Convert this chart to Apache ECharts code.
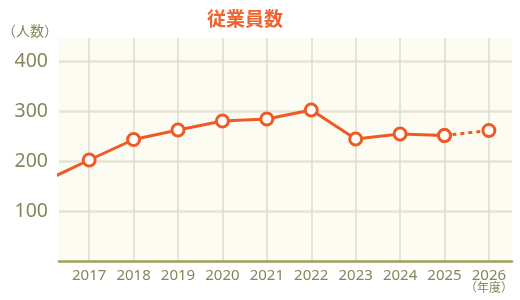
<!DOCTYPE html>
<html><head><meta charset="utf-8">
<script src="https://cdn.jsdelivr.net/npm/echarts@6/dist/echarts.min.js"></script>
<style>html,body{margin:0;padding:0;background:#fff}#c{width:520px;height:300px}</style>
</head><body><div id="c"></div>
<script>
const years = [2016, 2017, 2018, 2019, 2020, 2021, 2022, 2023, 2024, 2025, 2026];
const actual = [160, 202, 243, 262, 280, 284, 302, 244, 254, 251, null];
const forecast = [null, null, null, null, null, null, null, null, null, 251, 261];
const yTicks = [100, 200, 300, 400];
const title = '従業員数';
const yUnit = '（人数）';
const xUnit = '（年度）';

const orange = '#ef5a24';
const olive = '#86865a';
const grid = '#e6e4d2';
const vgrid = '#dedcd0';

const chart = echarts.init(document.getElementById('c'));
const actualData = years.map((y, i) => [y, actual[i]]).filter(d => d[1] !== null);
const forecastData = years.map((y, i) => [y, forecast[i]]).filter(d => d[1] !== null);
const firstShown = years[1];

chart.setOption({
  animation: false,
  title: {
    text: title, left: 240, top: 4, textAlign: 'center',
    textStyle: { color: '#f0622d', fontSize: 19, fontWeight: 'bold', fontFamily: 'Noto Sans CJK JP' }
  },
  graphic: [
    { type: 'text', left: 2, top: 24, style: { text: yUnit, fill: olive, font: '14px "Noto Sans CJK JP"' } },
    { type: 'text', right: 7, top: 281, style: { text: xUnit, fill: olive, font: '12px "Noto Sans CJK JP"' } }
  ],
  grid: { left: 59, right: 8, top: 38, bottom: 39, show: true, backgroundColor: '#fcfcf2', borderWidth: 0 },
  xAxis: {
    type: 'value', min: 2016.32, max: 2026.52, splitNumber: 10,
    axisLine: { lineStyle: { color: '#a3a35e', width: 2.5 } },
    axisTick: { show: false },
    axisLabel: { color: olive, fontSize: 15, fontFamily: 'Noto Sans', margin: 7, showMinLabel: false, showMaxLabel: false,
      formatter: v => (Number.isInteger(v) && v >= firstShown) ? String(v) : '' },
    splitLine: { show: true, lineStyle: { color: ['rgba(0,0,0,0)', vgrid, vgrid, vgrid, vgrid, vgrid, vgrid, vgrid, vgrid, vgrid, vgrid, 'rgba(0,0,0,0)'], width: 1.5 } }
  },
  yAxis: {
    type: 'value', min: 0, max: 446, interval: 100,
    axisLine: { show: false }, axisTick: { show: false },
    axisLabel: { color: olive, fontSize: 19.5, fontFamily: 'Noto Sans', margin: 11, showMaxLabel: false,
      formatter: v => yTicks.indexOf(v) >= 0 ? String(v) : '' },
    splitLine: { show: true, lineStyle: { color: [grid, grid, grid, grid, grid, 'rgba(0,0,0,0)'], width: 2.5 } }
  },
  series: [
    {
      type: 'line', data: actualData, clip: true,
      lineStyle: { color: orange, width: 3 },
      symbol: 'circle', symbolSize: 12,
      itemStyle: { color: '#fff', borderColor: orange, borderWidth: 3 },
      showSymbol: true,
      z: 3
    },
    {
      type: 'line', data: forecastData, clip: true,
      lineStyle: { color: orange, width: 3, type: [4, 4] },
      symbol: 'circle', symbolSize: 12,
      itemStyle: { color: '#fff', borderColor: orange, borderWidth: 3 },
      z: 2
    }
  ]
});
</script></body></html>
